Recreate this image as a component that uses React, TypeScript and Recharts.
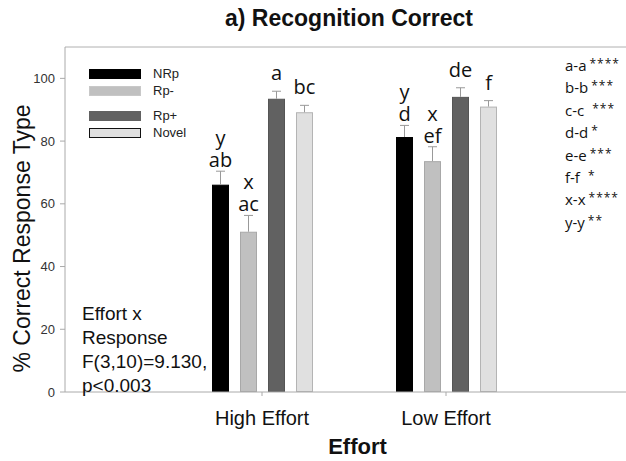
import { BarChart, Bar, XAxis, YAxis, Legend, ReferenceLine, LabelList } from 'recharts'

const categories = ['High Effort', 'Low Effort']
const nrp = [66.1, 81.3]
const rpMinus = [51.1, 73.6]
const rpPlus = [93.5, 94.1]
const novel = [89.2, 91.0]
const nrpErr = [4.3, 3.7]
const rpMinusErr = [5.2, 4.6]
const rpPlusErr = [2.4, 2.9]
const novelErr = [2.2, 1.9]
const nrpLetters = ['y\nab', 'y\nd']
const rpMinusLetters = ['x\nac', 'x\nef']
const rpPlusLetters = ['a', 'de']
const novelLetters = ['bc', 'f']
const yTicks = [0, 20, 40, 60, 80, 100]
const comparisons = ['a-a', 'b-b', 'c-c', 'd-d', 'e-e', 'f-f', 'x-x', 'y-y']
const stars = ['****', '***', '***', '*', '***', '*', '****', '**']
const statLines = ['Effort x', 'Response', 'F(3,10)=9.130,', 'p<0.003']

const data = categories.map((c, i) => ({
    category: c,
    NRp: nrp[i], nrpErr: nrpErr[i],
    'Rp-': rpMinus[i], rpMinusErr: rpMinusErr[i],
    'Rp+': rpPlus[i], rpPlusErr: rpPlusErr[i],
    Novel: novel[i], novelErr: novelErr[i],
}))

const series = [
    { key: 'NRp', err: 'nrpErr', letters: nrpLetters, errs: nrpErr, fill: '#000000', stroke: '#000000', legendStroke: '#000000' },
    { key: 'Rp-', err: 'rpMinusErr', letters: rpMinusLetters, errs: rpMinusErr, fill: '#c0c0c0', stroke: '#a8a8a8', legendStroke: '#c8c8c8' },
    { key: 'Rp+', err: 'rpPlusErr', letters: rpPlusLetters, errs: rpPlusErr, fill: '#616161', stroke: '#555555', legendStroke: '#616161' },
    { key: 'Novel', err: 'novelErr', letters: novelLetters, errs: novelErr, fill: '#e0e0e0', stroke: '#b4b4b4', legendStroke: '#111111' },
]

const SANS = "'Liberation Sans', Arial, sans-serif"

// bar + upper whisker; whisker length comes from the bar's own px/unit
const makeShape = (errKey: string, fill: string, stroke: string) => (props: any) => {
    const { x, y, width, height, payload, value } = props
    const v = Array.isArray(value) ? value[1] - value[0] : value
    const perUnit = v ? height / v : 0
    const top = y - payload[errKey] * perUnit
    const cx = x + width / 2
    return <g>
        <rect x={x + 0.5} y={y + 0.5} width={width - 1} height={height - 1} fill={fill} stroke={stroke} />
        <line x1={cx} x2={cx} y1={y} y2={top} stroke="#999" />
        <line x1={cx - 4.5} x2={cx + 4.5} y1={top} y2={top} stroke="#999" />
    </g>
}

const makeLetters = (letters: string[], errArr: number[]) => (props: any) => {
    const { x, y, width, height, value, index } = props
    const perUnit = value ? height / value : 0
    const top = y - errArr[index] * perUnit
    const lines = letters[index].split('\n')
    const gap = lines.length > 1 ? 4 : 11
    return <text x={x + width / 2} textAnchor="middle" fontFamily="'Open Sans', sans-serif" fontSize={20} fill="#111">
        {lines.map((l, i) => <tspan key={i} x={x + width / 2} y={top - gap - (lines.length - 1 - i) * 22}>{l}</tspan>)}
    </text>
}

const renderLegend = () => {
    return <div style={{ fontFamily: SANS, fontSize: 13, color: '#222' }}>
        {series.map((s, i) => (
            <div key={s.key} style={{ display: 'flex', alignItems: 'center', height: 17, marginTop: i === 2 ? 8 : 0 }}>
                <div style={{ width: 52, height: 10, boxSizing: 'border-box', background: s.fill, border: `${i === 3 ? 1.5 : 1}px solid ${s.legendStroke}` }} />
                <span style={{ marginLeft: 12 }}>{s.key}</span>
            </div>
        ))}
    </div>
}

export default function App() {
    return <div style={{ position: 'absolute', left: 0, top: 0, width: 626, height: 461, background: '#fff' }}>
        <div style={{ position: 'absolute', left: 0, width: 698, top: 5, textAlign: 'center', fontFamily: SANS, fontWeight: 'bold', fontSize: 23, color: '#111' }}>
            a) Recognition Correct
        </div>
        <BarChart width={626} height={461} data={data} margin={{ top: 47, right: 0, left: 5, bottom: 0 }} barSize={17} barGap={11}>
            <ReferenceLine y={110} stroke="#b0b0b0" />
            <XAxis
                dataKey="category"
                padding={{ left: 105, right: 88 }}
                height={69}
                tickSize={4}
                tickMargin={15}
                axisLine={{ stroke: '#aaa' }}
                tickLine={{ stroke: '#aaa' }}
                tick={{ fontFamily: SANS, fontSize: 20, fill: '#111' }}
                label={{
                    content: (p: any) => {
                        const vb = p.viewBox
                        return <text x={vb.x + vb.width / 2 + 12} y={vb.y + vb.height - 7} textAnchor="middle" fontFamily={SANS} fontWeight="bold" fontSize={22} fill="#111">Effort</text>
                    }
                }}
            />
            <YAxis
                domain={[0, 110]}
                ticks={yTicks}
                width={60}
                tickSize={5}
                tickMargin={5}
                axisLine={{ stroke: '#aaa' }}
                tickLine={{ stroke: '#aaa' }}
                tick={{ fontFamily: SANS, fontSize: 13, fill: '#333' }}
                label={{
                    content: (p: any) => {
                        const vb = p.viewBox
                        const cy = vb.y + vb.height / 2 + 19
                        return <text x={22} y={cy} transform={`rotate(-90, 22, ${cy})`} textAnchor="middle" dominantBaseline="central" fontFamily={SANS} fontSize={23} fill="#111">% Correct Response Type</text>
                    }
                }}
            />
            <Legend layout="vertical" align="center" verticalAlign="middle" content={renderLegend}
                wrapperStyle={{ top: 65, left: 89, width: 120, bottom: 'auto', right: 'auto' }} />
            {series.map(s => (
                <Bar key={s.key} dataKey={s.key} name={s.key} fill={s.fill} isAnimationActive={false}
                    shape={makeShape(s.err, s.fill, s.stroke)}>
                    <LabelList dataKey={s.key} content={makeLetters(s.letters, s.errs)} />
                </Bar>
            ))}
        </BarChart>
        <div style={{ position: 'absolute', left: 565, top: 54, fontFamily: "'Open Sans', sans-serif", fontSize: 15, color: '#111' }}>
            {comparisons.map((c, i) => <div key={c} style={{ whiteSpace: 'pre', height: 22.4, lineHeight: '22px', overflow: 'visible' }}>
                {c}<span style={{ position: 'relative', top: -3, marginLeft: c === 'c-c' || c === 'f-f' ? 8 : 3, fontSize: 12, letterSpacing: 1, lineHeight: '12px' }}>{stars[i]}</span>
            </div>)}
        </div>
        <div style={{ position: 'absolute', left: 82, top: 302, fontFamily: SANS, fontSize: 19, color: '#111', lineHeight: '24px' }}>
            {statLines.map(l => <div key={l}>{l}</div>)}
        </div>
    </div>
}
